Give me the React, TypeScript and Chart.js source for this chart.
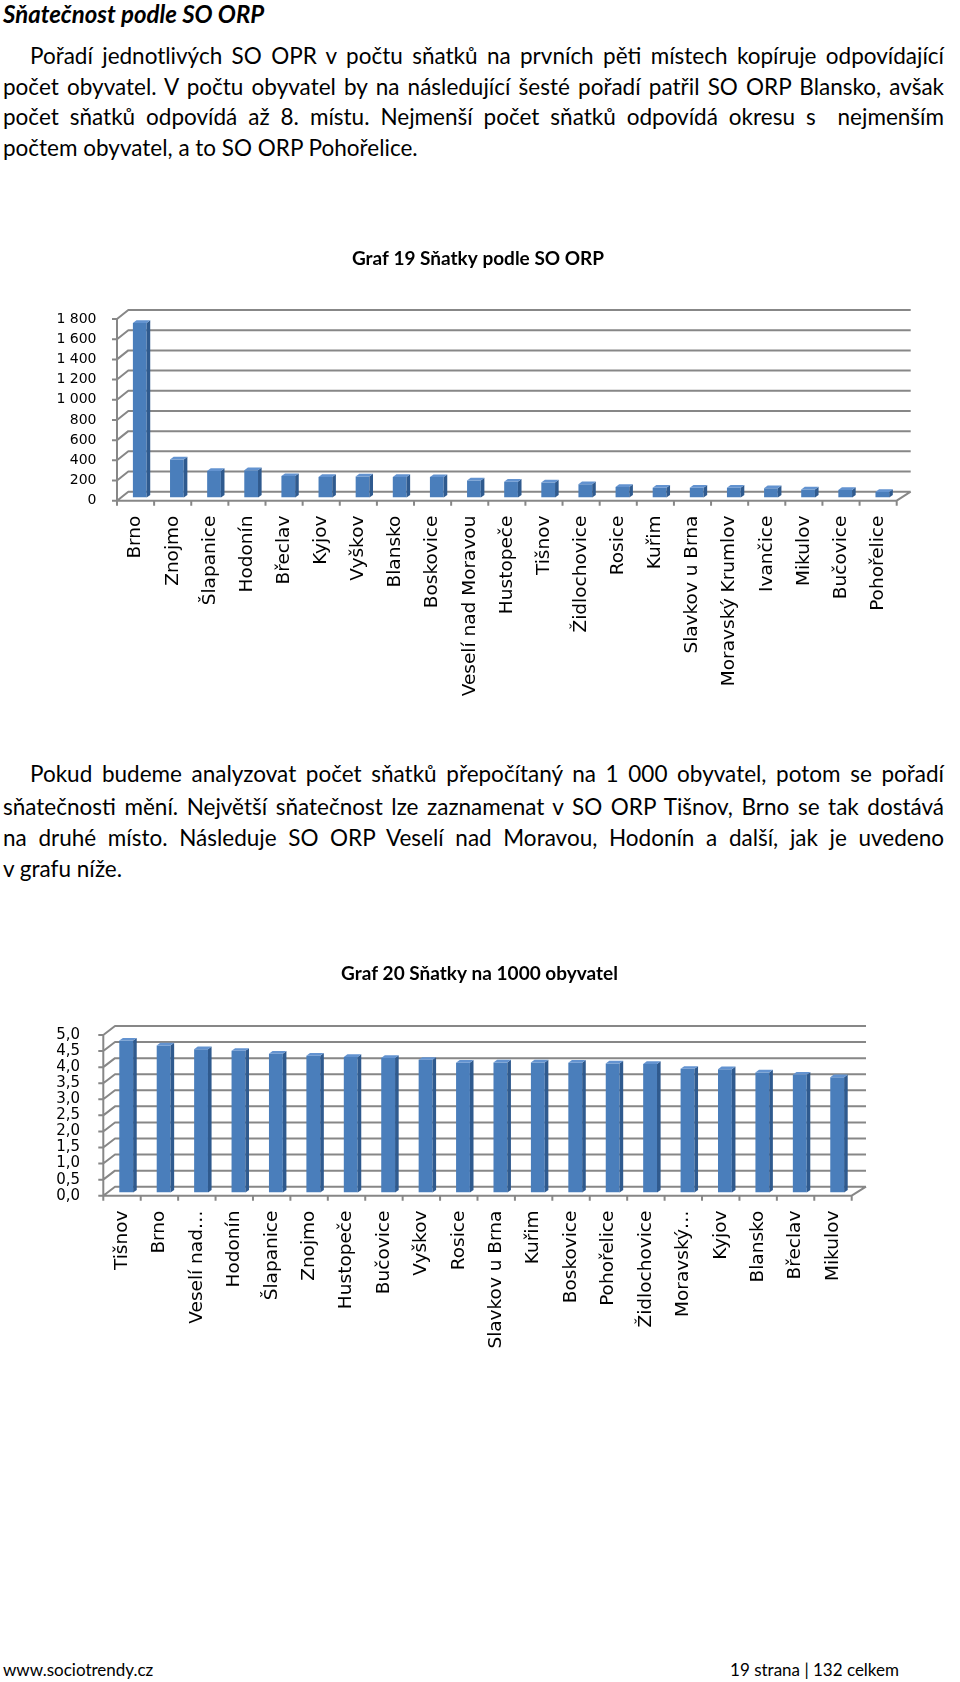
import React, { useEffect, useRef } from 'react';
import { Chart, registerables } from 'chart.js';

Chart.register(...registerables);

// ---------- Data ----------
const categories1 = [
  'Brno', 'Znojmo', 'Šlapanice', 'Hodonín', 'Břeclav', 'Kyjov', 'Vyškov', 'Blansko',
  'Boskovice', 'Veselí nad Moravou', 'Hustopeče', 'Tišnov', 'Židlochovice', 'Rosice',
  'Kuřim', 'Slavkov u Brna', 'Moravský Krumlov', 'Ivančice', 'Mikulov', 'Bučovice', 'Pohořelice',
];
const marriages1 = [1730, 378, 264, 272, 213, 205, 210, 205, 203, 170, 158, 150, 132, 105, 98, 98, 97, 92, 80, 76, 56];
const yMin1 = 0;
const yMax1 = 1800;
const yStep1 = 200;

const categories2 = [
  'Tišnov', 'Brno', 'Veselí nad…', 'Hodonín', 'Šlapanice', 'Znojmo', 'Hustopeče', 'Bučovice',
  'Vyškov', 'Rosice', 'Slavkov u Brna', 'Kuřim', 'Boskovice', 'Pohořelice', 'Židlochovice',
  'Moravský…', 'Kyjov', 'Blansko', 'Břeclav', 'Mikulov',
];
const ratePer1000 = [4.73, 4.58, 4.46, 4.41, 4.32, 4.26, 4.22, 4.19, 4.13, 4.04, 4.05, 4.05, 4.04, 4.02, 4.0, 3.85, 3.84, 3.74, 3.67, 3.59];
const yMin2 = 0;
const yMax2 = 5;
const yStep2 = 0.5;

const title1 = 'Graf 19 Sňatky podle SO ORP';
const title2 = 'Graf 20 Sňatky na 1000 obyvatel';

const heading = 'Sňatečnost podle SO ORP';
const para1 = [
  'Pořadí jednotlivých SO OPR v počtu sňatků na prvních pěti místech kopíruje odpovídající',
  'počet obyvatel. V počtu obyvatel by na následující šesté pořadí patřil SO ORP Blansko, avšak',
  'počet sňatků odpovídá až 8. místu. Nejmenší počet sňatků odpovídá okresu s  nejmenším',
  'počtem obyvatel, a to SO ORP Pohořelice.',
];
const para2 = [
  'Pokud budeme analyzovat počet sňatků přepočítaný na 1 000 obyvatel, potom se pořadí',
  'sňatečnosti mění. Největší sňatečnost lze zaznamenat v SO ORP Tišnov, Brno se tak dostává',
  'na druhé místo. Následuje SO ORP Veselí nad Moravou, Hodonín a další, jak je uvedeno',
  'v grafu níže.',
];
const footerLeft = 'www.sociotrendy.cz';
const footerRight = '19 strana | 132 celkem';

// ---------- 3D box plugin ----------
const box3d = {
  id: 'box3d',
  beforeDatasetsDraw(chart: any, _args: any, opts: any) {
    const { ctx, chartArea: a } = chart;
    const xs = chart.scales.x;
    const ys = chart.scales.y;
    const { bx, by, dxL, dxR, dy, color, lw } = opts;
    const FL = a.left - bx;
    const FR = a.right - bx;
    const f0 = ys.getPixelForValue(ys.min) + by;
    const fTop = ys.getPixelForValue(ys.max) + by;
    ctx.save();
    ctx.strokeStyle = color;
    ctx.lineWidth = lw;
    ctx.lineJoin = 'round';
    ctx.beginPath();
    ys.ticks.forEach((t: any) => {
      const fy = ys.getPixelForValue(t.value) + by;
      ctx.moveTo(FL - 5, fy);
      ctx.lineTo(FL, fy);
      ctx.lineTo(FL + dxL, fy - dy);
      ctx.lineTo(FR + dxR, fy - dy);
    });
    ctx.moveTo(FL, fTop);
    ctx.lineTo(FL, f0 + 5);
    ctx.moveTo(FL, f0);
    ctx.lineTo(FR, f0);
    ctx.lineTo(FR + dxR, f0 - dy);
    const n = chart.data.labels.length;
    for (let i = 0; i <= n; i++) {
      const x = xs.getPixelForValue(i - 0.5) - bx;
      ctx.moveTo(x, f0);
      ctx.lineTo(x, f0 + 5);
    }
    ctx.stroke();
    ctx.restore();
  },
  afterDatasetsDraw(chart: any, _args: any, opts: any) {
    const { ctx } = chart;
    const { bdx, bdy, side, top } = opts;
    ctx.save();
    chart.getDatasetMeta(0).data.forEach((bar: any) => {
      const { x, y, base, width } = bar.getProps(['x', 'y', 'base', 'width'], true);
      const L = x - width / 2;
      const R = x + width / 2;
      ctx.fillStyle = side;
      ctx.beginPath();
      ctx.moveTo(R, y);
      ctx.lineTo(R + bdx, y - bdy);
      ctx.lineTo(R + bdx, base - bdy);
      ctx.lineTo(R, base);
      ctx.closePath();
      ctx.fill();
      ctx.fillStyle = top;
      ctx.beginPath();
      ctx.moveTo(L, y);
      ctx.lineTo(L + bdx, y - bdy);
      ctx.lineTo(R + bdx, y - bdy);
      ctx.lineTo(R, y);
      ctx.closePath();
      ctx.fill();
    });
    ctx.restore();
  },
  afterDraw(chart: any, _args: any, opts: any) {
    const { ctx } = chart;
    ctx.save();
    ctx.fillStyle = '#000';
    ctx.font = 'bold 19px Lato';
    ctx.textAlign = 'center';
    ctx.textBaseline = 'middle';
    ctx.fillText(opts.title, opts.titleX, opts.titleY);
    ctx.restore();
  },
};

const fmtThousands = (v: number) => String(v).replace(/\B(?=(\d{3})+(?!\d))/g, ' ');
const fmtDecimal = (v: number) => Number(v).toFixed(1).replace('.', ',');

interface Geo {
  top: number; // chart area top (bar plane)
  left: number; // chart area left (bar plane)
  rightPad: number;
  xAxisH: number;
  yLabelPad: number;
  yFont: number;
  dxL: number;
  dxR: number;
  titleX: number;
  titleY: number;
}

function makeConfig(labels: string[], values: number[], title: string, min: number, max: number, step: number, fmt: (v: number) => string, g: Geo) {
  const bx = 4.2;
  const by = 3.1;
  return {
    type: 'bar',
    data: {
      labels,
      datasets: [
        {
          data: values,
          backgroundColor: '#4a7ebb',
          borderWidth: 0,
          barPercentage: 0.37,
          categoryPercentage: 1,
        },
      ],
    },
    options: {
      responsive: false,
      maintainAspectRatio: false,
      animation: false,
      devicePixelRatio: 1,
      events: [],
      layout: { padding: { left: 0, right: g.rightPad, top: g.top, bottom: 0 } },
      plugins: {
        legend: { display: false },
        tooltip: { enabled: false },
        title: { display: false },
        box3d: {
          bx, by, dxL: g.dxL, dxR: g.dxR, dy: 9, color: '#878787', lw: 2,
          bdx: 3.6, bdy: 2.7, side: '#2f5a8e', top: '#6393d0',
          title, titleX: g.titleX, titleY: g.titleY,
        },
      },
      scales: {
        x: {
          grid: { display: false, drawTicks: false },
          border: { display: false },
          ticks: {
            autoSkip: false,
            maxRotation: 90,
            minRotation: 90,
            padding: 18,
            labelOffset: -bx,
            color: '#000',
            font: { family: 'DejaVu Sans', size: 18.5 },
          },
          afterFit: (s: any) => { s.height = g.xAxisH; },
        },
        y: {
          min,
          max,
          grid: { display: false, drawTicks: false },
          border: { display: false },
          ticks: {
            autoSkip: false,
            stepSize: step,
            padding: g.yLabelPad,
            labelOffset: by,
            color: '#000',
            font: { family: 'DejaVu Sans', size: g.yFont },
            callback: (v: any) => fmt(Number(v)),
          },
          afterFit: (s: any) => { s.width = g.left; },
        },
      },
    },
    plugins: [box3d],
  } as any;
}

const textFont = 'Lato, "Open Sans", sans-serif';

function Line({ text, cy, indent, last, size }: { text: string; cy: number; indent: boolean; last: boolean; size: number }) {
  const left = indent ? 30 : 3;
  return (
    <div
      style={{
        position: 'absolute',
        left,
        width: 944 - left,
        top: cy - 15,
        height: 30,
        lineHeight: '30px',
        fontFamily: textFont,
        fontSize: size,
        color: '#000',
        textAlign: last ? 'left' : 'justify',
        textAlignLast: last ? 'left' : 'justify',
        whiteSpace: 'pre-wrap',
      } as any}
    >
      {text}
    </div>
  );
}

export default function App() {
  const ref1 = useRef<HTMLCanvasElement>(null);
  const ref2 = useRef<HTMLCanvasElement>(null);

  useEffect(() => {
    const c1 = new Chart(
      ref1.current as HTMLCanvasElement,
      makeConfig(categories1, marriages1, title1, yMin1, yMax1, yStep1, fmtThousands, {
        top: 90.9, left: 121.2, rightPad: 59.1, xAxisH: 217.4,
        yLabelPad: 24.7, yFont: 14, dxL: 11.3, dxR: 14,
        titleX: 478, titleY: 33.5,
      }),
    );
    const c2 = new Chart(
      ref2.current as HTMLCanvasElement,
      makeConfig(categories2, ratePer1000, title2, yMin2, yMax2, yStep2, fmtDecimal, {
        top: 91.9, left: 107.5, rightPad: 104.1, xAxisH: 167.4,
        yLabelPad: 27.5, yFont: 15, dxL: 11.7, dxR: 14.3,
        titleX: 479.5, titleY: 34,
      }),
    );
    return () => {
      c1.destroy();
      c2.destroy();
    };
  }, []);

  const p1y = [55.8, 86.5, 117.2, 148];
  const p2y = [774.4, 806.6, 837.7, 868.8];

  return (
    <div style={{ position: 'absolute', left: 0, top: 0, width: 960, height: 1682, background: '#fff', overflow: 'hidden' }}>
      <div
        style={{
          position: 'absolute', left: 3, top: 0, height: 28, lineHeight: '28px',
          fontFamily: textFont, fontSize: 24, fontWeight: 'bold', fontStyle: 'italic', color: '#000',
        }}
      >
        {heading}
      </div>
      {para1.map((t, i) => (
        <Line key={'a' + i} text={t} cy={p1y[i]} indent={i === 0} last={i === para1.length - 1} size={22.5} />
      ))}
      <canvas ref={ref1} width={960} height={490} style={{ position: 'absolute', left: 0, top: 225, width: 960, height: 490 }} />
      {para2.map((t, i) => (
        <Line key={'b' + i} text={t} cy={p2y[i]} indent={i === 0} last={i === para2.length - 1} size={22.5} />
      ))}
      <canvas ref={ref2} width={960} height={420} style={{ position: 'absolute', left: 0, top: 940, width: 960, height: 420 }} />
      <div style={{ position: 'absolute', left: 3, top: 1659, height: 22, lineHeight: '22px', fontFamily: textFont, fontSize: 17, color: '#000' }}>
        {footerLeft}
      </div>
      <div style={{ position: 'absolute', right: 61, top: 1659, height: 22, lineHeight: '22px', fontFamily: textFont, fontSize: 17, color: '#000', whiteSpace: 'pre' }}>
        {footerRight}
      </div>
    </div>
  );
}
